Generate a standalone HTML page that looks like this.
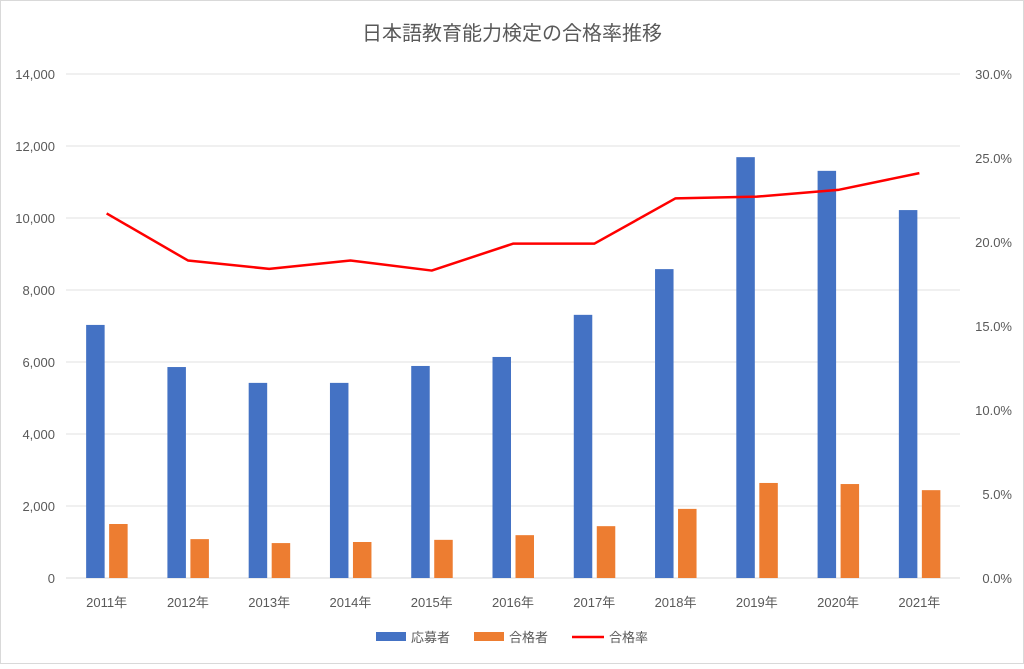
<!DOCTYPE html>
<html><head><meta charset="utf-8"><style>
body{margin:0;background:#fff;}
svg text{font-family:"Liberation Sans","Noto Sans CJK JP",sans-serif;fill:#595959;}
</style></head><body>
<svg id="chart" width="1024" height="664" xmlns="http://www.w3.org/2000/svg">
<rect x="0.5" y="0.5" width="1023" height="663" fill="#fff" stroke="#d9d9d9"/>
<text x="512" y="40" font-size="20" text-anchor="middle">日本語教育能力検定の合格率推移</text>
<g id="grid"></g><g id="bars"></g><g id="line"></g><g id="labels"></g>
<g>
<rect x="376" y="632" width="30" height="9" fill="#4472c4"/>
<text x="411" y="642" font-size="13">応募者</text>
<rect x="474" y="632" width="30" height="9" fill="#ed7d31"/>
<text x="509" y="642" font-size="13">合格者</text>
<line x1="572" y1="637" x2="604" y2="637" stroke="#ff0000" stroke-width="2.5"/>
<text x="609" y="642" font-size="13">合格率</text>
</g>
</svg>
<script>
const categories=["2011年","2012年","2013年","2014年","2015年","2016年","2017年","2018年","2019年","2020年","2021年"];
const applicants=[7030,5860,5420,5420,5890,6140,7310,8580,11690,11310,10220];
const passers=[1500,1080,970,1000,1060,1190,1440,1920,2640,2610,2440];
const rates=[21.7,18.9,18.4,18.9,18.3,19.9,19.9,22.6,22.7,23.1,24.1];
const leftTicks=[0,2000,4000,6000,8000,10000,12000,14000];
const rightTicks=[0,5,10,15,20,25,30];
const NS="http://www.w3.org/2000/svg";
const L=66,R=960,T=74,B=578;
const band=(R-L)/categories.length;
const xC=i=>L+band*(i+0.5);
const yL=v=>B-(v/14000)*(B-T);
const yR=v=>B-(v/30)*(B-T);
function mk(tag,attrs,parent,text){const e=document.createElementNS(NS,tag);for(const k in attrs)e.setAttribute(k,attrs[k]);if(text!==undefined)e.textContent=text;document.getElementById(parent).appendChild(e);return e;}
leftTicks.forEach(v=>{
 const g=mk("line",{x1:L,x2:R,y1:yL(v),y2:yL(v),stroke:v===0?"#d9d9d9":"#e0e0e0","stroke-width":1},"grid");
 
 
 const t=mk("text",{x:55,y:yL(v)+5,"font-size":13,"text-anchor":"end"},"labels",v.toLocaleString("en-US"));
 
 
});
rightTicks.forEach(v=>{
 const t=mk("text",{x:1012,y:yR(v)+5,"font-size":13,"text-anchor":"end"},"labels",v.toFixed(1)+"%");
 
 
});
const bw=18.5;
categories.forEach((c,i)=>{
 const cx=xC(i);
 const b=mk("rect",{x:cx-bw-2,y:yL(applicants[i]),width:bw,height:B-yL(applicants[i]),fill:"#4472c4"},"bars");
 
 
 const o=mk("rect",{x:cx+2.5,y:yL(passers[i]),width:bw,height:B-yL(passers[i]),fill:"#ed7d31"},"bars");
 
 
 const t=mk("text",{x:cx,y:607,"font-size":13,"text-anchor":"middle"},"labels",c);
 
 
});
const pts=rates.map((r,i)=>xC(i)+","+yR(r)).join(" ");
const pl=mk("polyline",{points:pts,fill:"none",stroke:"#ff0000","stroke-width":2.5,"stroke-linejoin":"round"},"line");


</script>
</body></html>
